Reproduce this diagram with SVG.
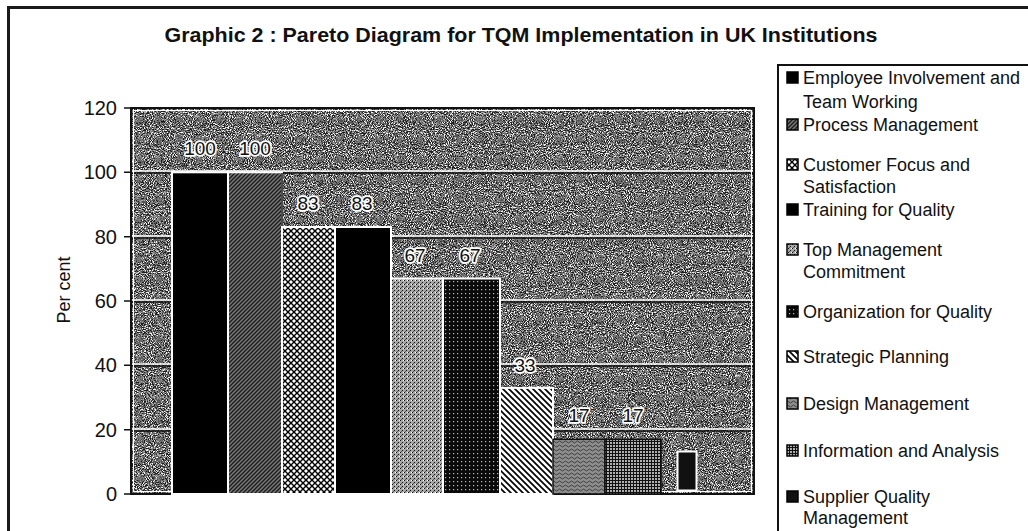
<svg xmlns="http://www.w3.org/2000/svg" width="1028" height="531" viewBox="0 0 1028 531">
<style>
  text { font-family: "Liberation Sans", Arial, sans-serif; fill: #111; }
  .title { font-size: 21px; font-weight: bold; text-anchor: middle; }
  .tick { font-size: 20px; text-anchor: end; }
  .axis { font-size: 18px; text-anchor: middle; }
  .val { font-size: 19px; text-anchor: middle; stroke: #fff; stroke-width: 3.5px; paint-order: stroke; stroke-linejoin: round; }
  .leg { font-size: 18px; }
  .bar { stroke: #fff; stroke-width: 2; }
  .mk { stroke: #000; stroke-width: 1.5; }
  .frame { fill: none; stroke: #1a1a1a; stroke-width: 3; }
  .grid-w { stroke: #fff; stroke-width: 1.6; }
  .grid-k { stroke: #111; stroke-width: 1.4; }
</style>
<defs>
  <filter id="grain" x="0" y="0" width="1" height="1" color-interpolation-filters="sRGB">
    <feTurbulence type="fractalNoise" baseFrequency="0.95" numOctaves="2" seed="7" result="n"/>
    <feColorMatrix in="n" type="matrix" values="1 0 0 0 0  1 0 0 0 0  1 0 0 0 0  0 0 0 0 1" result="g"/>
    <feComponentTransfer in="g" result="c">
      <feFuncR type="linear" slope="2.6" intercept="-0.88"/>
      <feFuncG type="linear" slope="2.6" intercept="-0.88"/>
      <feFuncB type="linear" slope="2.6" intercept="-0.88"/>
    </feComponentTransfer>
    <feComponentTransfer in="c">
      <feFuncR type="discrete" tableValues="0.12 0.33 0.48 0.68 0.95"/>
      <feFuncG type="discrete" tableValues="0.12 0.33 0.48 0.68 0.95"/>
      <feFuncB type="discrete" tableValues="0.12 0.33 0.48 0.68 0.95"/>
    </feComponentTransfer>
  </filter>
  <pattern id="p2" width="4" height="4" patternUnits="userSpaceOnUse">
    <rect width="4" height="4" fill="#777"/>
    <path d="M-1,1 L1,-1 M0,4 L4,0 M3,5 L5,3" stroke="#1a1a1a" stroke-width="1.3"/>
  </pattern>
  <pattern id="p3" width="6" height="6" patternUnits="userSpaceOnUse">
    <rect width="6" height="6" fill="#fff"/>
    <path d="M0,0 L6,6 M6,0 L0,6" stroke="#000" stroke-width="1.4"/>
  </pattern>
  <pattern id="p5" width="4" height="4" patternUnits="userSpaceOnUse">
    <rect width="4" height="4" fill="#a8a8a8"/>
    <rect x="0" y="0" width="1" height="1" fill="#111"/>
    <rect x="2" y="2" width="1" height="1" fill="#111"/>
    <rect x="3" y="0" width="1" height="1" fill="#fff"/>
    <rect x="1" y="3" width="1" height="1" fill="#555"/>
  </pattern>
  <pattern id="p6" width="4" height="4" patternUnits="userSpaceOnUse">
    <rect width="4" height="4" fill="#0a0a0a"/>
    <rect x="1" y="1" width="1.2" height="1.2" fill="#bbb"/>
  </pattern>
  <pattern id="p7" width="6" height="6" patternUnits="userSpaceOnUse">
    <rect width="6" height="6" fill="#fff"/>
    <path d="M0,0 L6,6 M-3,3 L3,9 M3,-3 L9,3" stroke="#000" stroke-width="1.7"/>
  </pattern>
  <pattern id="p8" width="6" height="4" patternUnits="userSpaceOnUse">
    <rect width="6" height="4" fill="#8e8e8e"/>
    <path d="M0,2 Q1.5,0 3,2 T6,2" fill="none" stroke="#333" stroke-width="0.9"/>
  </pattern>
  <pattern id="p9" width="3" height="3" patternUnits="userSpaceOnUse">
    <rect width="3" height="3" fill="#b0b0b0"/>
    <path d="M0.5,0 V3 M0,0.5 H3" stroke="#111" stroke-width="1"/>
  </pattern>
</defs>

<rect width="1028" height="531" fill="#fff"/>

<!-- outer frame -->
<path class="frame" d="M8.5,531 V7.5 H1028"/>

<!-- title -->
<text class="title" x="521" y="42" textLength="713" lengthAdjust="spacingAndGlyphs">Graphic 2 : Pareto Diagram for TQM Implementation in UK Institutions</text>

<!-- plot area -->
<g id="plot">
  <rect x="131" y="108" width="623" height="386" fill="#808080" filter="url(#grain)"/>
  <g id="gridlines">
    <line class="grid-w" x1="132" y1="171" x2="753" y2="171"/><line class="grid-k" x1="132" y1="173" x2="753" y2="173"/>
    <line class="grid-w" x1="132" y1="236" x2="753" y2="236"/><line class="grid-k" x1="132" y1="238" x2="753" y2="238"/>
    <line class="grid-w" x1="132" y1="300" x2="753" y2="300"/><line class="grid-k" x1="132" y1="302" x2="753" y2="302"/>
    <line class="grid-w" x1="132" y1="364" x2="753" y2="364"/><line class="grid-k" x1="132" y1="366" x2="753" y2="366"/>
    <line class="grid-w" x1="132" y1="429" x2="753" y2="429"/><line class="grid-k" x1="132" y1="431" x2="753" y2="431"/>
  </g>
  <rect x="131" y="108" width="623" height="386" fill="none" stroke="#111" stroke-width="2"/>
  <rect x="133.5" y="110.5" width="618" height="381" fill="none" stroke="#fff" stroke-width="1"/>
  <!-- axis ticks -->
  <path d="M124,108 H131 M124,172.3 H131 M124,236.7 H131 M124,301 H131 M124,365.3 H131 M124,429.7 H131 M124,494 H131" stroke="#111" stroke-width="1.5"/>
</g>

<!-- y-axis labels -->
<g id="yaxis">
  <text class="tick" x="117" y="115">120</text>
  <text class="tick" x="117" y="179">100</text>
  <text class="tick" x="117" y="244">80</text>
  <text class="tick" x="117" y="308">60</text>
  <text class="tick" x="117" y="372">40</text>
  <text class="tick" x="117" y="437">20</text>
  <text class="tick" x="117" y="501">0</text>
  <text class="axis" transform="translate(70,290) rotate(-90)">Per cent</text>
</g>

<!-- bars -->
<g id="bar-employee"><rect class="bar" x="172" y="172.3" width="56" height="321.7" fill="#000"/></g>
<g id="bar-process"><rect class="bar" x="228" y="172.3" width="54" height="321.7" fill="url(#p2)"/><line x1="282" y1="173" x2="282" y2="494" stroke="#111" stroke-width="1.5"/></g>
<g id="bar-customer"><rect class="bar" x="282" y="227" width="53" height="267" fill="url(#p3)"/></g>
<g id="bar-training"><rect class="bar" x="335" y="227" width="56" height="267" fill="#000"/></g>
<g id="bar-topmgmt"><rect class="bar" x="391" y="278.5" width="52" height="215.5" fill="url(#p5)"/></g>
<g id="bar-organization"><rect class="bar" x="443" y="278.5" width="57" height="215.5" fill="url(#p6)"/></g>
<g id="bar-strategic"><rect class="bar" x="500" y="387.9" width="53" height="106.1" fill="url(#p7)"/></g>
<g id="bar-design"><rect x="553" y="439.3" width="52" height="54.7" fill="url(#p8)" stroke="#111" stroke-width="1.5"/></g>
<g id="bar-information"><rect x="605" y="439.3" width="56" height="54.7" fill="url(#p9)" stroke="#111" stroke-width="1.5"/></g>
<g id="bar-supplier"><rect class="bar" x="677.5" y="451.5" width="19" height="39" fill="#111"/></g>

<!-- value labels -->
<g id="values">
  <text class="val" x="200" y="155">100</text>
  <text class="val" x="255" y="155">100</text>
  <text class="val" x="308" y="210">83</text>
  <text class="val" x="362" y="210">83</text>
  <text class="val" x="415" y="262">67</text>
  <text class="val" x="470" y="262">67</text>
  <text class="val" x="525" y="372">33</text>
  <text class="val" x="579" y="422">17</text>
  <text class="val" x="633" y="422">17</text>
</g>

<!-- legend -->
<g id="legend">
  <path d="M778,531 V65 H1028" fill="none" stroke="#111" stroke-width="2"/>
  <g id="leg-employee"><rect class="mk" x="787" y="72" width="11" height="11" fill="#000"/><text class="leg" x="803" y="84">Employee Involvement and</text><text class="leg" x="803" y="108">Team Working</text></g>
  <g id="leg-process"><rect class="mk" x="787" y="119" width="11" height="11" fill="url(#p2)"/><text class="leg" x="803" y="131">Process Management</text></g>
  <g id="leg-customer"><rect class="mk" x="787" y="159" width="11" height="11" fill="url(#p3)"/><text class="leg" x="803" y="171">Customer Focus and</text><text class="leg" x="803" y="193">Satisfaction</text></g>
  <g id="leg-training"><rect class="mk" x="787" y="204" width="11" height="11" fill="#000"/><text class="leg" x="803" y="216">Training for Quality</text></g>
  <g id="leg-topmgmt"><rect class="mk" x="787" y="244" width="11" height="11" fill="url(#p5)"/><text class="leg" x="803" y="256">Top Management</text><text class="leg" x="803" y="278">Commitment</text></g>
  <g id="leg-organization"><rect class="mk" x="787" y="306" width="11" height="11" fill="url(#p6)"/><text class="leg" x="803" y="318">Organization for Quality</text></g>
  <g id="leg-strategic"><rect class="mk" x="787" y="351" width="11" height="11" fill="url(#p7)"/><text class="leg" x="803" y="363">Strategic Planning</text></g>
  <g id="leg-design"><rect class="mk" x="787" y="398" width="11" height="11" fill="url(#p8)"/><text class="leg" x="803" y="410">Design Management</text></g>
  <g id="leg-information"><rect class="mk" x="787" y="445" width="11" height="11" fill="url(#p9)"/><text class="leg" x="803" y="457">Information and Analysis</text></g>
  <g id="leg-supplier"><rect class="mk" x="787" y="491" width="11" height="11" fill="#111"/><text class="leg" x="803" y="503">Supplier Quality</text><text class="leg" x="803" y="524">Management</text></g>
</g>
</svg>
